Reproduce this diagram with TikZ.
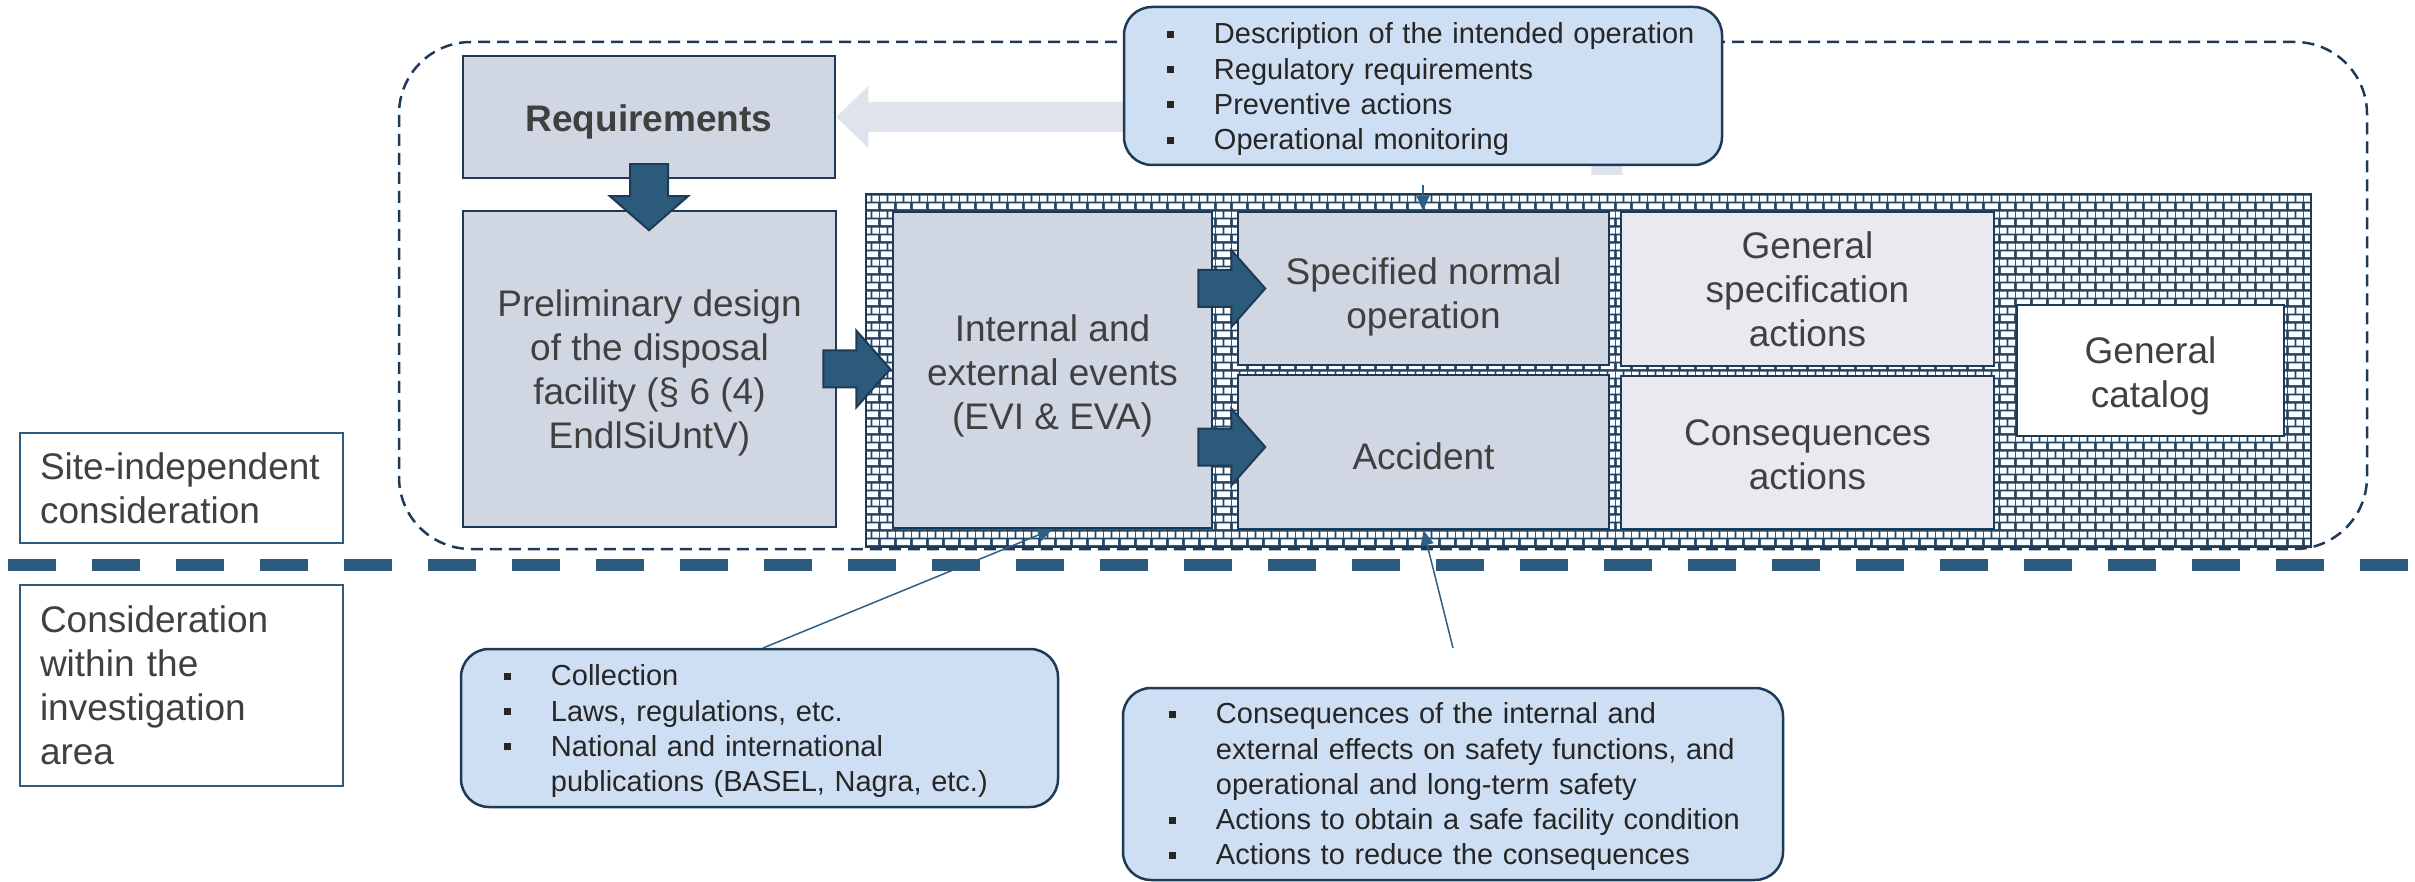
\documentclass[tikz,border=0pt]{standalone}
\usepackage{fontspec}
\setmainfont{Liberation Sans}
\usetikzlibrary{calc,patterns,arrows.meta}

\definecolor{cNavy}{HTML}{1F3A57}
\definecolor{cArrow}{HTML}{2B5A7B}
\definecolor{cBox}{HTML}{D0D7E3}
\definecolor{cBoxLight}{HTML}{E9EAEF}
\definecolor{cNote}{HTML}{CEDFF3}
\definecolor{cGhost}{HTML}{DFE4EC}
\definecolor{cText}{HTML}{404040}
\definecolor{cNoteText}{HTML}{262626}
\definecolor{cMortar}{HTML}{1F4467}
\definecolor{cLeader}{HTML}{2E5F86}
\definecolor{cSep}{HTML}{2B5A7C}
\definecolor{cLabel}{HTML}{2E5C80}

% white bricks laid in a running bond; the mortar comes from the fill below
\pgfdeclarepatternformonly{brickwall}{\pgfqpoint{0pt}{0pt}}{\pgfqpoint{16pt}{16pt}}{\pgfqpoint{16pt}{16pt}}{%
  \pgfpathrectangle{\pgfqpoint{0.9pt}{0.9pt}}{\pgfqpoint{14.2pt}{6.2pt}}%
  \pgfpathrectangle{\pgfqpoint{0pt}{8.9pt}}{\pgfqpoint{7.1pt}{6.2pt}}%
  \pgfpathrectangle{\pgfqpoint{8.9pt}{8.9pt}}{\pgfqpoint{7.1pt}{6.2pt}}%
  \pgfusepath{fill}}

\newcommand\boxfont{\fontsize{37}{44}\selectfont}
\newcommand\notefont{\fontsize{29}{35.3}\selectfont}
\newcommand\itm{\makebox[47pt][l]{\rule[6pt]{7pt}{7pt}}}
\newcommand\cnt{\hspace*{47pt}}
% invisible strut that sets the height of a box's first text line
\newcommand\lift[1]{\rule{0pt}{#1pt}}
% horizontal block arrow; argument is the middle of the shaft's tail
\newcommand\blockright[1]{\draw[barrow] #1 ++(0,-18.5) -- ++(33,0) -- ++(0,-20) -- ++(34,38.5) -- ++(-34,38.5) -- ++(0,-20) -- ++(-33,0) -- cycle;}

\tikzset{
  mbox/.style={draw=cNavy, line width=2.5pt, fill=cBox, text=cText, font=\boxfont, align=center, inner sep=0pt},
  lbox/.style={mbox, fill=cBoxLight},
  wbox/.style={mbox, fill=white, line width=2pt},
  sidebox/.style={draw=cLabel, line width=2pt, fill=white, text=cText, font=\boxfont, align=left, text width=283pt, inner xsep=20pt, inner ysep=0pt},
  note/.style={draw=cNavy, line width=2.5pt, fill=cNote, rounded corners=28pt, inner sep=0pt},
  notetext/.style={text=cNoteText, font=\notefont, align=left, text width=700pt, inner sep=0pt, anchor=base west},
  barrow/.style={draw=cNavy, line width=2pt, fill=cArrow, line join=miter},
  leader/.style={draw=cLeader, line width=1.5pt, -{Triangle[length=15pt,width=13pt]}},
  zone/.style={draw=cNavy, line width=2.5pt, dash pattern=on 12pt off 7pt, rounded corners=72pt, inner sep=0pt},
  sepline/.style={draw=cSep, line width=12pt, dash pattern=on 48pt off 36pt},
  bricks/.style={draw=cNavy, line width=2.5pt, preaction={fill=cMortar}, pattern=brickwall, pattern color=white, inner sep=0pt},
}

\begin{document}
\begin{tikzpicture}[x=1pt,y=-1pt]
\useasboundingbox (0,0) rectangle (2415,882);

% site-independent zone
\node[zone, minimum width=1968, minimum height=507] (zone) at (1383,295.5) {};

% boundary between the two kinds of consideration
\coordinate (sepL) at (7.5,565);
\coordinate (sepR) at (2415,565);
\draw[sepline] (sepL) -- (sepR);

% left column
\node[mbox, font=\boxfont\bfseries, minimum width=372, minimum height=122] (req) at (649,117) {\lift{36}Requirements};
\node[mbox, minimum width=373, minimum height=316] (prelim) at (649.5,369) {\lift{35}Preliminary design\\of the disposal\\facility (§ 6 (4)\\EndlSiUntV)};

% pale feedback arrow into the requirements
\fill[cGhost] (req.east) -- ++(32,-31) -- ++(0,16) -- ++(754,0) -- ++(0,73) -- ++(-31,0) -- ++(0,-43) -- ++(-723,0) -- ++(0,16) -- cycle;

% brick wall with the event catalogue
\node[bricks, minimum width=1445, minimum height=353] (wall) at (1588.5,370.5) {};
\node[mbox, minimum width=319, minimum height=316] (events) at (1052.5,370) {\lift{39}Internal and\\external events\\(EVI \& EVA)};
\node[mbox, minimum width=371, minimum height=153] (normal) at (1423.5,288.5) {\lift{43}Specified normal\\operation};
\node[mbox, minimum width=371, minimum height=154] (accident) at (1423.5,452) {\lift{36}Accident};
\node[lbox, minimum width=373, minimum height=154] (genspec) at (1807.5,289) {General\\specification\\actions};
\node[lbox, minimum width=373, minimum height=153] (conseq) at (1807.5,452.5) {\lift{30}Consequences\\actions};
\node[wbox, minimum width=267, minimum height=131] (catalog) at (2150.5,370.5) {\lift{37}General\\catalog};

% block arrows
\draw[barrow] ($(req.south)+(0,-15)$) ++(-19,0) -- ++(0,32) -- ++(-20,0) -- ++(39,34) -- ++(39,-34) -- ++(-20,0) -- ++(0,-32) -- cycle;
\blockright{($(prelim.east)+(-14,0)$)}
\blockright{($(events.east |- normal.west)+(-15,0)$)}
\blockright{($(events.east |- accident.west)+(-15,-5)$)}

% notes
\node[note, minimum width=598, minimum height=158] (opnote) at (1423,86) {};
\node[notetext] (opnotetext) at ($(opnote.north west)+(44,38)$) {\itm Description of the intended operation\\\itm Regulatory requirements\\\itm Preventive actions\\\itm Operational monitoring};

\node[note, minimum width=597, minimum height=158] (srcnote) at (759.5,728) {};
\node[notetext] (srcnotetext) at ($(srcnote.north west)+(44,38)$) {\itm Collection\\\itm Laws, regulations, etc.\\\itm National and international\\\cnt publications (BASEL, Nagra, etc.)};

\node[note, minimum width=660, minimum height=192] (effnote) at (1453,784) {};
\node[notetext] (effnotetext) at ($(effnote.north west)+(47,37)$) {\itm Consequences of the internal and\\\cnt external effects on safety functions, and\\\cnt operational and long-term safety\\\itm Actions to obtain a safe facility condition\\\itm Actions to reduce the consequences};

% note leaders
\coordinate (opfoot) at (1423,185);
\draw[leader] (opfoot) -- (opfoot |- normal.north);
\coordinate (srcfoot) at (763,648);
\draw[leader] (srcfoot) -- (events.south);
\coordinate (effoot) at (1453,648);
\draw[leader] (effoot) -- (accident.south);

% side labels
\node[sidebox, minimum height=110] (siteindep) at (181.5,488) {Site-independent\\consideration};
\node[sidebox, minimum height=201] (local) at (181.5,685.5) {Consideration\\within the\\investigation\\area};
\end{tikzpicture}
\end{document}
